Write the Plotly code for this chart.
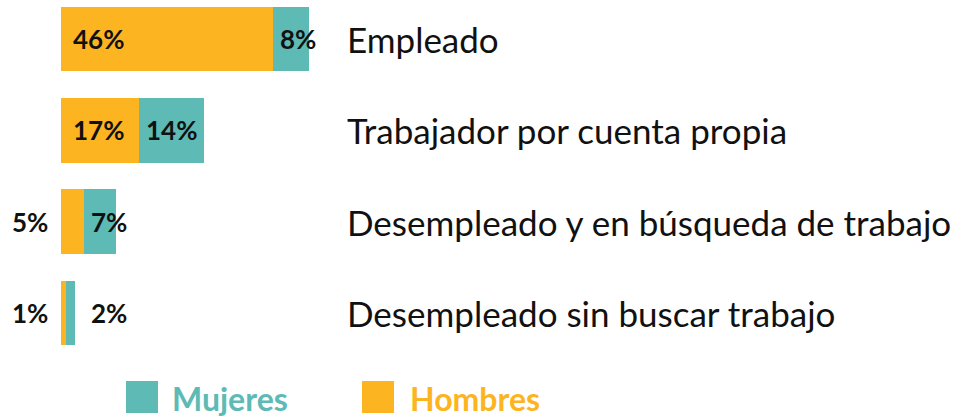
import plotly.graph_objects as go

categorias = ["Empleado", "Trabajador por cuenta propia",
              "Desempleado y en búsqueda de trabajo", "Desempleado sin buscar trabajo"]
hombres = [46, 17, 5, 1]
mujeres = [8, 14, 7, 2]

NARANJA = "#FCB520"
TURQUESA = "#5EBAB4"
FUENTE = "Lato"

fig = go.Figure()

fig.add_trace(go.Bar(
    y=categorias, x=hombres, orientation="h", name="Hombres",
    marker=dict(color=NARANJA, line=dict(width=0)), width=0.71,
    hoverinfo="skip",
))
fig.add_trace(go.Bar(
    y=categorias, x=mujeres, orientation="h", name="Mujeres",
    marker=dict(color=TURQUESA, line=dict(width=0)), width=0.71,
    hoverinfo="skip",
))

anotaciones = []
etiqueta_font = dict(family=FUENTE, size=26, color="#111111", weight=700)

for cat, h, m in zip(categorias, hombres, mujeres):
    # Hombres: dentro de la barra si cabe, si no a la izquierda
    if h >= 10:
        anotaciones.append(dict(x=0, y=cat, text=f"{h}%", showarrow=False,
                                xanchor="left", xshift=10, font=etiqueta_font))
    else:
        anotaciones.append(dict(x=0, y=cat, text=f"{h}%", showarrow=False,
                                xanchor="right", xshift=-11, font=etiqueta_font))
    # Mujeres: al inicio del segmento
    anotaciones.append(dict(x=max(h, 5), y=cat, text=f"{m}%", showarrow=False,
                            xanchor="left", xshift=5, font=etiqueta_font))
    # Nombre de la categoría
    anotaciones.append(dict(x=345 / 969, xref="paper", y=cat, text=cat,
                            showarrow=False, xanchor="left",
                            font=dict(family=FUENTE, size=35, color="#111111")))

# Leyenda manual
leyenda = [("Mujeres", TURQUESA, 126, 170), ("Hombres", NARANJA, 362, 408)]
formas = []
for nombre, color, x_cuadro, x_texto in leyenda:
    formas.append(dict(type="rect", xref="paper", yref="paper",
                       x0=x_cuadro / 969, x1=(x_cuadro + 32) / 969,
                       y0=1 - 413 / 420, y1=1 - 381 / 420,
                       fillcolor=color, line=dict(width=0)))
    anotaciones.append(dict(x=x_texto / 969, xref="paper", y=1 - 398 / 420,
                            yref="paper", text=nombre, showarrow=False,
                            xanchor="left", yanchor="middle",
                            font=dict(family=FUENTE, size=32, color=color, weight=700)))

fig.update_layout(
    barmode="stack",
    width=969, height=420,
    margin=dict(l=0, r=0, t=0, b=0),
    plot_bgcolor="white", paper_bgcolor="white",
    showlegend=False,
    annotations=anotaciones,
    shapes=formas,
    xaxis=dict(range=[-61 / 4.6, (969 - 61) / 4.6], visible=False, fixedrange=True),
    yaxis=dict(range=[3 + 107 / 91.33, -39 / 91.33], visible=False, fixedrange=True),
)

fig.write_html("out.html", config={"displayModeBar": False},
               post_script="document.body.style.margin='0';")
